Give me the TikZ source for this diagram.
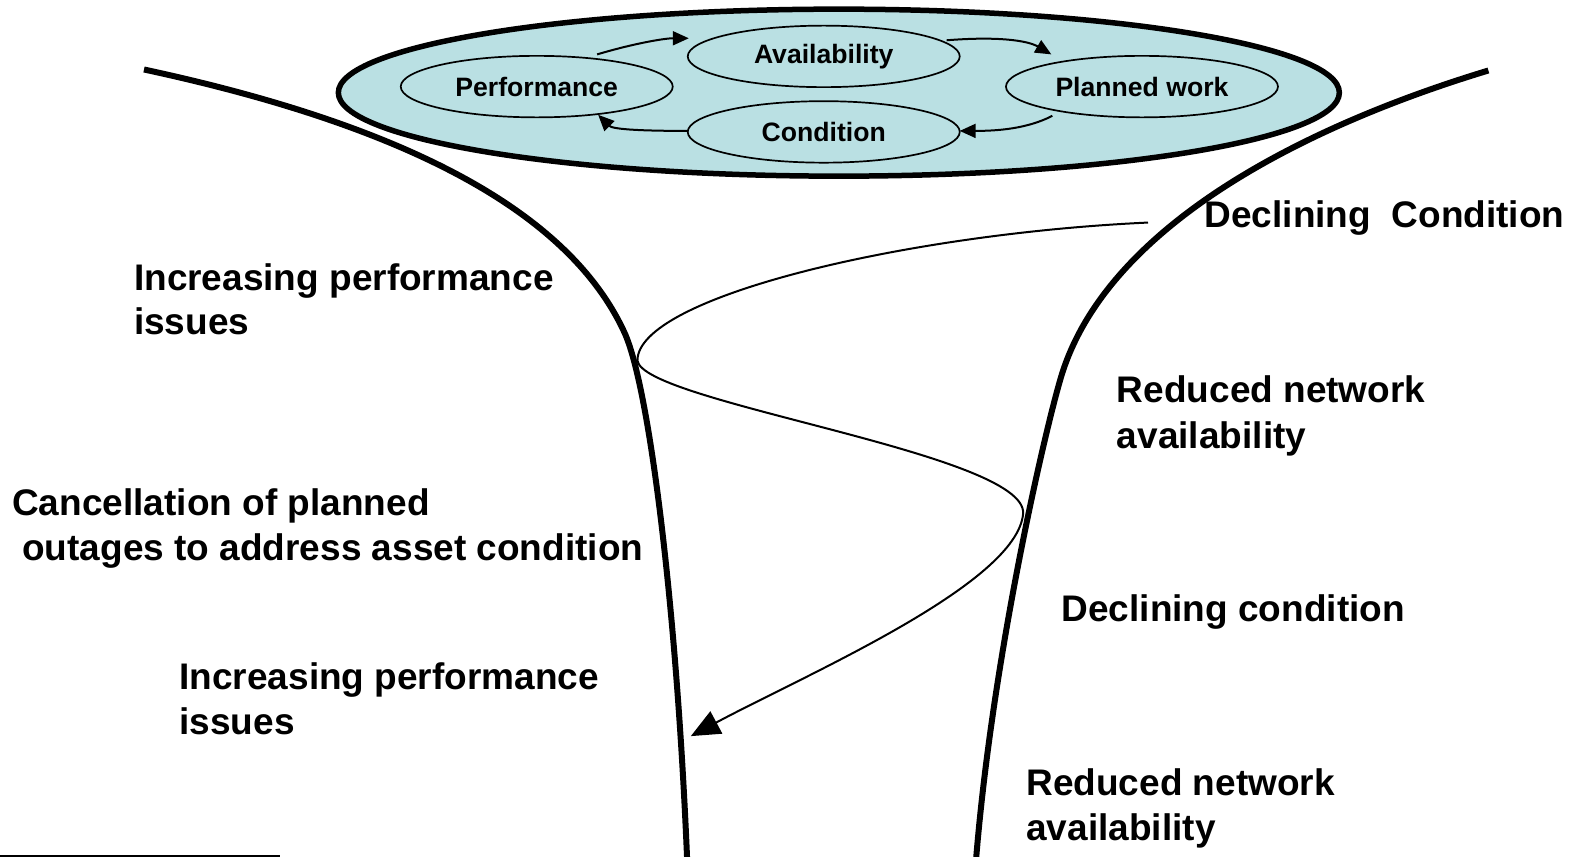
\documentclass[tikz,border=0pt]{standalone}
\usepackage{fontspec}
\setmainfont{Liberation Sans}
\usetikzlibrary{shapes.geometric,arrows.meta}
\definecolor{lake}{HTML}{BAE0E3}
\tikzset{
  funnel/.style={line width=6pt},
  bigell/.style={ellipse, draw, line width=5.5pt, fill=lake, minimum width=1001pt, minimum height=167pt, inner sep=0pt},
  smallell/.style={ellipse, draw, line width=1.7pt, minimum width=272pt, minimum height=61.5pt, inner sep=0pt, font=\fontsize{26.6}{30}\selectfont\bfseries},
  loop/.style={line width=2pt, -{Triangle[length=16pt,width=14pt]}},
  spiral/.style={line width=2pt, -{Triangle[length=29pt,width=25pt]}},
  lbl/.style={anchor=base west, inner sep=0pt, font=\fontsize{37}{44}\selectfont\bfseries}
}
\begin{document}
\begin{tikzpicture}[x=1.007pt,y=-1.007pt]
\useasboundingbox (0,0) rectangle (1568,851);
% funnel walls
\draw[funnel] (143,69) .. controls (380,120) and (560,200) .. (620,330)
   .. controls (645,384) and (673,610) .. (683,870);
\draw[funnel] (1478,70) .. controls (1280,130) and (1100,230) .. (1055,370)
   .. controls (1040,417) and (983,660) .. (968,870);
% top ellipse
\node[bigell] (top) at (833,92) {};
\node[smallell] (perf) at (533,86) {Performance};
\node[smallell] (avail) at (818,56) {Availability};
\node[smallell] (plan) at (1134,86) {Planned work};
\node[smallell] (cond) at (818,131) {Condition};
\coordinate (pa1) at (593,54);
\coordinate (pa2) at (684,38);
\coordinate (ap1) at (940,40);
\coordinate (ap2) at (1044,54);
\coordinate (pc1) at (1045,115);
\coordinate (pc2) at (953,130);
\coordinate (cp1) at (683,130);
\coordinate (cp2) at (594,114);
\draw[loop] (pa1) .. controls (630,43) and (660,38) .. (pa2);
\draw[loop] (ap1) .. controls (990,36) and (1020,40) .. (ap2);
\draw[loop] (pc1) .. controls (1020,128) and (990,130) .. (pc2);
\draw[loop] (cp1) .. controls (630,130) and (608,128) .. (cp2);
% spiral
\coordinate (s0) at (1140,221);
\coordinate (s1) at (633,358);
\coordinate (s2) at (1016,510);
\coordinate (s3) at (686,731);
\draw[spiral] (s0) .. controls (900,232) and (633,295) .. (s1)
   .. controls (638,400) and (1020,450) .. (s2)
   .. controls (1010,580) and (800,670) .. (s3);
% labels
\node[lbl] (dc1) at (1196,226) {Declining\ \ Condition};
\node[lbl] (ip1a) at (133,288) {Increasing performance};
\node[lbl] (ip1b) at (133,332) {issues};
\node[lbl] (rn1a) at (1109,400) {Reduced network};
\node[lbl] (rn1b) at (1109,445) {availability};
\node[lbl] (cpa) at (12,512) {Cancellation of planned};
\node[lbl] (cpb) at (22,557) {outages to address asset condition};
\node[lbl] (dc2) at (1054,617) {Declining condition};
\node[lbl] (ip2a) at (178,685) {Increasing performance};
\node[lbl] (ip2b) at (178,729) {issues};
\node[lbl] (rn2a) at (1019,790) {Reduced network};
\node[lbl] (rn2b) at (1019,835) {availability};
% footnote rule
\coordinate (fr0) at (0,850);
\coordinate (fr1) at (278,850);
\draw[line width=1.5pt] (fr0) -- (fr1);
\end{tikzpicture}
\end{document}
